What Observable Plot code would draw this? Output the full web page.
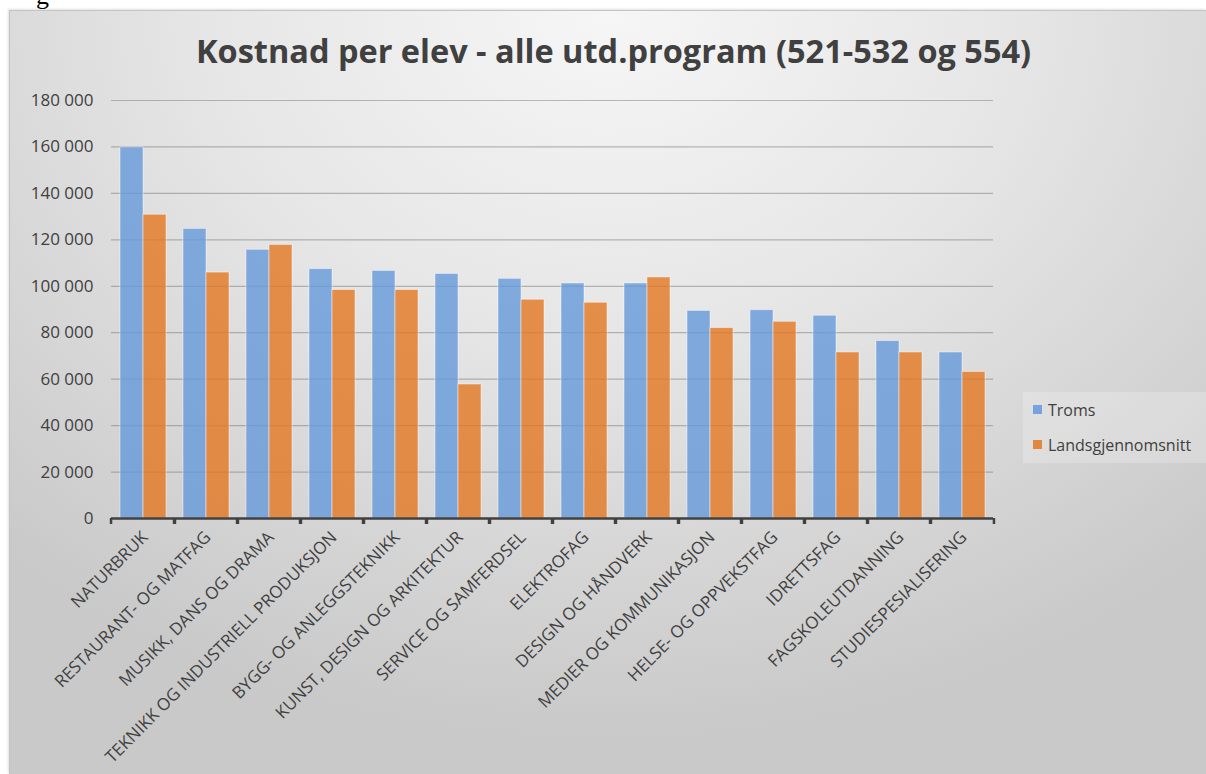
<!DOCTYPE html>
<html>
<head>
<meta charset="utf-8">
<script src="https://cdn.jsdelivr.net/npm/d3@7"></script>
<script src="https://cdn.jsdelivr.net/npm/@observablehq/plot@0.6"></script>
<style>
  html, body { margin: 0; padding: 0; background: #ffffff; }
  #wrap { position: relative; width: 1206px; height: 774px; overflow: hidden; font-family: "Open Sans", sans-serif; }
  #stray { position: absolute; left: 36px; top: -17px; font-family: "Liberation Serif", serif; font-size: 26px; line-height: 1; color: #000; }
  #frame { position: absolute; left: 9px; top: 10px; width: 1197px; height: 764px; box-sizing: border-box;
    border-top: 1px solid #c4c4c4; border-left: 1px solid #c4c4c4;
    box-shadow: -1px -1px 2px rgba(0,0,0,0.12);
    background: radial-gradient(ellipse 75% 95% at 50% 0%, #f6f6f6 0%, #e6e6e6 45%, #c9c9c9 100%); }
  #title { position: absolute; left: 0; width: 1227px; top: 35px; text-align: center; font-weight: 700; font-size: 32.5px; line-height: 32px; color: #404040; white-space: nowrap; }
  #chart { position: absolute; left: 0; top: 0; }
  #legend { position: absolute; left: 1023px; top: 392px; width: 183px; height: 71px; background: rgba(255,255,255,0.22); box-sizing: border-box; padding-left: 10px; padding-top: 0px; }
  .item { display: flex; align-items: center; height: 35px; font-size: 16px; color: #404040; }
  .sw { width: 9px; height: 9px; margin-right: 6px; box-sizing: border-box; }
</style>
</head>
<body>
<div id="wrap">
  <div id="stray">g</div>
  <div id="frame"></div>
  <div id="title">Kostnad per elev - alle utd.program (521-532 og 554)</div>
  <div id="chart"></div>
  <div id="legend"></div>
</div>
<script>
const categories = [
  "NATURBRUK",
  "RESTAURANT- OG MATFAG",
  "MUSIKK, DANS OG DRAMA",
  "TEKNIKK OG INDUSTRIELL PRODUKSJON",
  "BYGG- OG ANLEGGSTEKNIKK",
  "KUNST, DESIGN OG ARKITEKTUR",
  "SERVICE OG SAMFERDSEL",
  "ELEKTROFAG",
  "DESIGN OG HÅNDVERK",
  "MEDIER OG KOMMUNIKASJON",
  "HELSE- OG OPPVEKSTFAG",
  "IDRETTSFAG",
  "FAGSKOLEUTDANNING",
  "STUDIESPESIALISERING"
];
const series = ["Troms", "Landsgjennomsnitt"];
const troms = [159800, 124700, 115700, 107400, 106600, 105300, 103200, 101200, 101200, 89400, 89700, 87300, 76400, 71500];
const lands = [130800, 105900, 117800, 98400, 98400, 57700, 94200, 92900, 103800, 82000, 84700, 71500, 71500, 63100];
const yTicks = [0, 20000, 40000, 60000, 80000, 100000, 120000, 140000, 160000, 180000];
const colors = ["#6598DA", "#E47722"];

const data = categories.flatMap((c, i) => [
  {cat: c, serie: series[0], value: troms[i]},
  {cat: c, serie: series[1], value: lands[i]}
]);

const locale = d3.formatLocale({decimal: ",", thousands: " ", grouping: [3], currency: ["", ""]});
const fmt = locale.format(",d");

const W = 1010, H = 774;
const mL = 104, mR = 11, mT = 100, mB = 256;
const half = (W - mL - mR) / categories.length / 2;

const chart = Plot.plot({
  width: W,
  height: H,
  marginLeft: mL,
  marginRight: mR,
  marginTop: mT,
  marginBottom: mB,
  style: {background: "transparent", fontFamily: "'Open Sans', sans-serif", fontSize: "16px", color: "#404040", overflow: "visible"},
  fx: {domain: categories, padding: 0, label: null},
  x: {domain: series, paddingInner: 0, paddingOuter: 0.36, axis: null, label: null},
  y: {domain: [0, 180000], label: null},
  color: {domain: series, range: colors},
  marks: [
    Plot.gridY(yTicks, {stroke: "#727272", strokeOpacity: 0.47, strokeWidth: 1.2}),
    Plot.barY(data, {fx: "cat", x: "serie", y: "value", fill: "serie", fillOpacity: 0.8, stroke: "#ffffff", strokeOpacity: 0.45, strokeWidth: 1}),
    Plot.ruleY([0], {stroke: "#404040", strokeWidth: 2.5}),
    Plot.axisY(yTicks, {tickSize: 0, tickPadding: 18, tickFormat: fmt, fontSize: 17, fill: "#404040", label: null}),
    Plot.axisFx({anchor: "bottom", tickSize: 0, tickPadding: 16, dx: 2, tickRotate: -45, fontSize: 17, fill: "#404040", label: null}),
    Plot.axisFx({anchor: "bottom", tickSize: 6, tickFormat: () => "", dx: -half, stroke: "#404040", strokeWidth: 2.5, label: null}),
    Plot.axisFx([categories[categories.length - 1]], {anchor: "bottom", tickSize: 6, tickFormat: () => "", dx: half, stroke: "#404040", strokeWidth: 2.5, label: null})
  ]
});
document.getElementById("chart").appendChild(chart);

const legend = document.getElementById("legend");
series.forEach((s, i) => {
  const row = document.createElement("div");
  row.className = "item";
  const sw = document.createElement("span");
  sw.className = "sw";
  sw.style.background = colors[i];
  sw.style.opacity = 0.85;
  const t = document.createElement("span");
  t.textContent = s;
  row.appendChild(sw);
  row.appendChild(t);
  legend.appendChild(row);
});
</script>
</body>
</html>
